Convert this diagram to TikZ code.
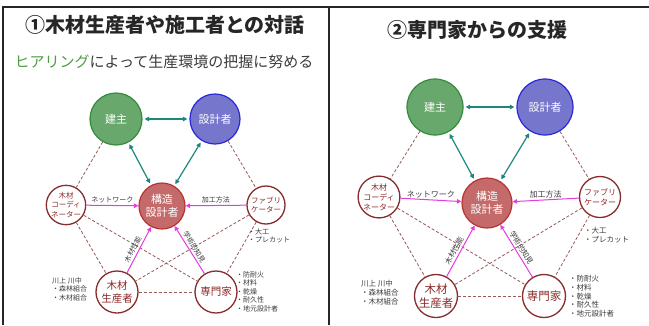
\documentclass[tikz,border=0pt]{standalone}
\usepackage{fontspec}
\setmainfont{Noto Sans CJK JP}
\usetikzlibrary{arrows.meta}
\definecolor{gFill}{RGB}{104,168,108}
\definecolor{gLine}{RGB}{50,140,60}
\definecolor{bFill}{RGB}{118,118,204}
\definecolor{bLine}{RGB}{40,40,215}
\definecolor{rFill}{RGB}{196,106,106}
\definecolor{rLine}{RGB}{185,50,50}
\definecolor{sLine}{RGB}{135,45,45}
\definecolor{sText}{RGB}{140,40,40}
\definecolor{cTeal}{RGB}{30,135,125}
\definecolor{cMag}{RGB}{228,60,228}
\definecolor{cDash}{RGB}{150,90,90}
\definecolor{cLbl}{RGB}{60,60,60}
\definecolor{cHear}{RGB}{80,155,70}
\begin{document}
\begin{tikzpicture}[x=1pt,y=-1pt,
  bigc/.style={circle, draw, line width=1.2pt, inner sep=0pt, text=white, align=center, font=\fontsize{11}{13}\selectfont},
  bigG/.style={bigc, fill=gFill, draw=gLine},
  bigB/.style={bigc, fill=bFill, draw=bLine},
  bigR/.style={bigc, fill=rFill, draw=rLine},
  smallc/.style={circle, draw=sLine, fill=white, line width=1.3pt, inner sep=0pt, text=sText, align=center, font=\fontsize{7.5}{9.5}\selectfont},
  midc/.style={smallc, font=\fontsize{10.5}{12.5}\selectfont},
  tarr/.style={draw=cTeal, line width=1.2pt, {Triangle[length=4.5pt,width=4.5pt]}-{Triangle[length=4.5pt,width=4.5pt]}, shorten >=2pt, shorten <=2pt},
  marr/.style={draw=cMag, line width=1pt, -{Triangle[length=4.5pt,width=4.5pt]}},
  rmarr/.style={draw=cMag, line width=1pt, {Triangle[length=4.5pt,width=4.5pt]}-},
  dsh/.style={draw=cDash, line width=0.8pt, dash pattern=on 3pt off 2pt},
  lbl/.style={font=\fontsize{7}{8.5}\selectfont, text=cLbl, inner sep=1.5pt},
  slbl/.style={lbl, sloped, above=1.5pt, inner sep=0.5pt},
  note/.style={lbl, anchor=north west, align=left, inner sep=0pt},
  frame/.style={draw=black!85, line width=1.2pt}
]
\useasboundingbox (0,0) rectangle (649,325);
\fill[white] (0,0) rectangle (649,325);
\draw[frame] (3,325) -- (3,7) -- (649,7);
\draw[frame] (329,7) -- (329,325);

% ---------- panel 1 ----------
\node[font=\bfseries\fontsize{20}{22}\selectfont, text=black!85] (titleA) at (165,25) {①木材生産者や施工者との対話};
\node[font=\fontsize{15}{17}\selectfont, text=cLbl] (subA) at (164,62) {\textcolor{cHear}{ヒアリング}によって生産環境の把握に努める};

\node[bigG, minimum size=52pt] (kenA) at (116,119) {建主};
\node[bigB, minimum size=50pt] (sekA) at (215,119) {設計者};
\node[bigR, minimum size=46pt] (kozA) at (162,206) {構造\\設計者};
\node[smallc, minimum size=38pt] (kcA) at (66,205) {木材\\コーディ\\ネーター};
\node[smallc, minimum size=38pt] (fabA) at (266,205) {ファブリ\\ケーター};
\node[midc, minimum size=42pt] (mokA) at (117,292) {木材\\生産者};
\node[midc, minimum size=42pt] (senA) at (216,292) {専門家};

\draw[dsh] (kenA) -- (kcA);
\draw[dsh] (sekA) -- (fabA);
\draw[dsh] (kcA) -- (mokA);
\draw[dsh] (kcA) -- (senA);
\draw[dsh] (fabA) -- (mokA);
\draw[dsh] (fabA) -- (senA);
\draw[dsh] (mokA) -- (senA);
\draw[tarr] (kenA) -- (sekA);
\draw[tarr] (kenA) -- (kozA);
\draw[tarr] (sekA) -- (kozA);
\draw[marr] (kcA) -- node[lbl, above] {ネットワーク} (kozA);
\draw[marr] (fabA) -- node[lbl, above] {加工方法} (kozA);
\draw[marr] (mokA) -- node[slbl, pos=0.45] {木材性能} (kozA);
\draw[rmarr] (kozA) -- node[slbl, pos=0.5] {学術的知見} (senA);

\node[note] (noteA1) at (52,277) {川上 川中\\・森林組合\\・木材組合};
\node[note] (noteA2) at (236,271) {・防耐火\\・材料\\・乾燥\\・耐久性\\・地元設計者};
\node[note] (noteA3) at (248,228) {・大工\\・プレカット};

% ---------- panel 2 ----------
\node[font=\bfseries\fontsize{20}{22}\selectfont, text=black!85] (titleB) at (477,30) {②専門家からの支援};

\node[bigG, minimum size=56pt] (kenB) at (435,107) {建主};
\node[bigB, minimum size=56pt] (sekB) at (545,107) {設計者};
\node[bigR, minimum size=50pt] (kozB) at (487,203) {構造\\設計者};
\node[smallc, minimum size=41pt, font=\fontsize{8}{10}\selectfont] (kcB) at (379,197) {木材\\コーディ\\ネーター};
\node[smallc, minimum size=41pt, font=\fontsize{8}{10}\selectfont] (fabB) at (600,197) {ファブリ\\ケーター};
\node[midc, minimum size=43pt, font=\fontsize{11.5}{13.5}\selectfont] (mokB) at (436,296) {木材\\生産者};
\node[midc, minimum size=43pt, font=\fontsize{11.5}{13.5}\selectfont] (senB) at (544,296) {専門家};

\draw[dsh] (kenB) -- (kcB);
\draw[dsh] (sekB) -- (fabB);
\draw[dsh] (kcB) -- (mokB);
\draw[dsh] (kcB) -- (senB);
\draw[dsh] (fabB) -- (mokB);
\draw[dsh] (fabB) -- (senB);
\draw[dsh] (mokB) -- (senB);
\draw[tarr] (kenB) -- (sekB);
\draw[tarr] (kenB) -- (kozB);
\draw[tarr] (sekB) -- (kozB);
\draw[marr] (kcB) -- node[lbl, above, font=\fontsize{8}{9}\selectfont] {ネットワーク} (kozB);
\draw[marr] (fabB) -- node[lbl, above, font=\fontsize{8}{9}\selectfont] {加工方法} (kozB);
\draw[marr] (mokB) -- node[slbl, pos=0.45, font=\fontsize{7.5}{9}\selectfont] {木材性能} (kozB);
\draw[rmarr] (kozB) -- node[slbl, pos=0.5, font=\fontsize{7.5}{9}\selectfont] {学術的知見} (senB);

\node[note, font=\fontsize{7.5}{9}\selectfont] (noteB1) at (361,280) {川上 川中\\・森林組合\\・木材組合};
\node[note, font=\fontsize{7.5}{8.8}\selectfont] (noteB2) at (569,275) {・防耐火\\・材料\\・乾燥\\・耐久性\\・地元設計者};
\node[note, font=\fontsize{7.5}{9}\selectfont] (noteB3) at (584,227) {・大工\\・プレカット};
\end{tikzpicture}
\end{document}
